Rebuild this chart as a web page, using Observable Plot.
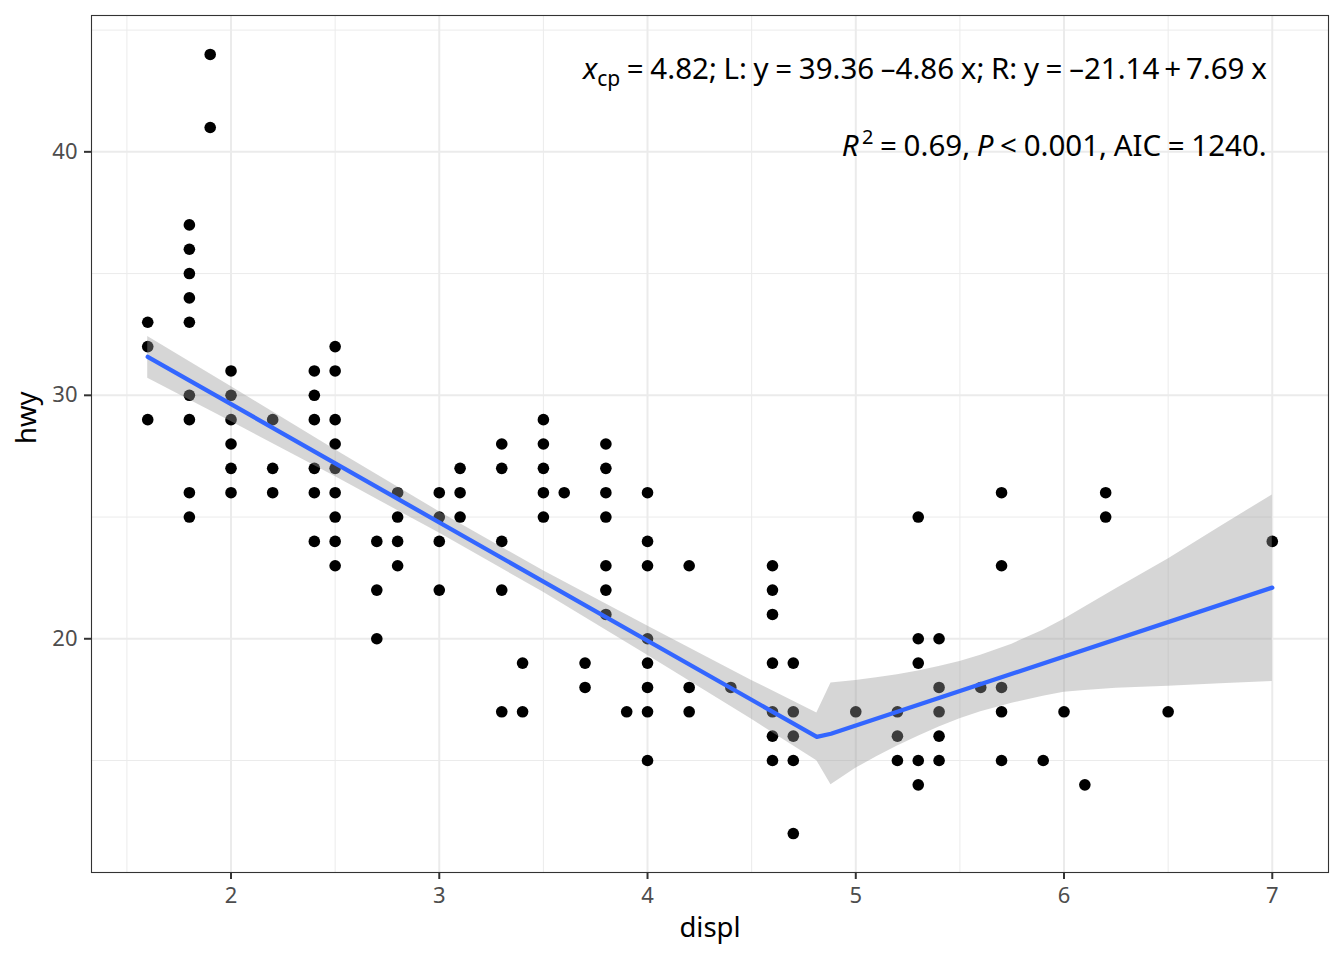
<!DOCTYPE html>
<html>
<head>
<meta charset="utf-8">
<script src="https://cdn.jsdelivr.net/npm/d3@7"></script>
<script src="https://cdn.jsdelivr.net/npm/@observablehq/plot@0.6"></script>
<style>
  html, body { margin: 0; padding: 0; background: white; }
  #chart { width: 1344px; height: 960px; }
</style>
</head>
<body>
<div id="chart"></div>
<script>
// ---- data (unique displ / hwy pairs) ----
const displ = [
  1.6,1.6,1.6,
  1.8,1.8,1.8,1.8,1.8,1.8,1.8,1.8,1.8,
  1.9,1.9,
  2.0,2.0,2.0,2.0,2.0,2.0,
  2.2,2.2,2.2,
  2.4,2.4,2.4,2.4,2.4,2.4,
  2.5,2.5,2.5,2.5,2.5,2.5,2.5,2.5,2.5,
  2.7,2.7,2.7,
  2.8,2.8,2.8,2.8,
  3.0,3.0,3.0,3.0,
  3.1,3.1,3.1,
  3.3,3.3,3.3,3.3,3.3,
  3.4,3.4,
  3.5,3.5,3.5,3.5,3.5,
  3.6,
  3.7,3.7,
  3.8,3.8,3.8,3.8,3.8,3.8,3.8,
  3.9,
  4.0,4.0,4.0,4.0,4.0,4.0,4.0,4.0,
  4.2,4.2,4.2,
  4.4,
  4.6,4.6,4.6,4.6,4.6,4.6,4.6,
  4.7,4.7,4.7,4.7,4.7,
  5.0,
  5.2,5.2,5.2,
  5.3,5.3,5.3,5.3,5.3,
  5.4,5.4,5.4,5.4,5.4,
  5.6,
  5.7,5.7,5.7,5.7,5.7,
  5.9,
  6.0,
  6.1,
  6.2,6.2,
  6.5,
  7.0
];
const hwy = [
  33,32,29,
  37,36,35,34,33,30,29,26,25,
  44,41,
  31,30,29,28,27,26,
  29,27,26,
  31,30,29,27,26,24,
  32,31,29,28,27,26,25,24,23,
  24,22,20,
  26,25,24,23,
  26,25,24,22,
  27,26,25,
  28,27,24,22,17,
  19,17,
  29,28,27,26,25,
  26,
  19,18,
  28,27,26,25,23,22,21,
  17,
  26,24,23,20,19,18,17,15,
  23,18,17,
  18,
  23,22,21,19,17,16,15,
  19,17,16,15,12,
  17,
  17,16,15,
  25,20,19,15,14,
  20,18,17,16,15,
  18,
  26,23,18,17,15,
  15,
  17,
  14,
  26,25,
  17,
  24
];

// fitted segmented line (vertices)
const fitX = [1.6, 4.813, 4.881, 7.0];
const fitY = [31.58, 15.97, 16.10, 22.10];

// confidence band edges
const bandX  = [1.6, 2.0, 2.5, 3.0, 3.5, 4.0, 4.5, 4.813,
                4.881, 5.0, 5.1, 5.2, 5.3, 5.4, 5.5, 5.6, 5.75, 5.9, 6.0, 6.1, 6.25, 6.5, 6.75, 7.0];
const bandLo = [30.70, 28.92, 26.66, 24.34, 21.91, 19.32, 16.69, 14.99,
                14.00, 14.68, 15.15, 15.60, 16.00, 16.38, 16.72, 17.00, 17.35, 17.64, 17.80, 17.88, 17.97, 18.05, 18.15, 18.25];
const bandHi = [32.42, 30.36, 27.76, 25.22, 22.79, 20.52, 18.29, 16.95,
                18.18, 18.29, 18.40, 18.52, 18.68, 18.86, 19.07, 19.32, 19.78, 20.35, 20.80, 21.30, 22.05, 23.28, 24.60, 25.91];

// ticks
const xTicks = [2, 3, 4, 5, 6, 7];
const xMinor = [1.5, 2.5, 3.5, 4.5, 5.5, 6.5];
const yTicks = [20, 30, 40];
const yMinor = [15, 25, 35, 45];

// labels
const xLabel = "displ";
const yLabel = "hwy";

// ---- build tables ----
const points = displ.map((d, i) => ({displ: d, hwy: hwy[i]}));
const fit = fitX.map((d, i) => ({x: d, y: fitY[i]}));
const band = bandX.map((d, i) => ({x: d, lo: bandLo[i], hi: bandHi[i]}));

const font = "Noto Sans";

const plot = Plot.plot({
  width: 1344,
  height: 960,
  marginLeft: 91,
  marginRight: 16,
  marginTop: 15,
  marginBottom: 88,
  style: {fontFamily: font, background: "white"},
  x: {domain: [1.33, 7.27]},
  y: {domain: [10.4, 45.6]},
  marks: [
    Plot.gridX(xMinor, {stroke: "#EBEBEB", strokeOpacity: 1, strokeWidth: 1}),
    Plot.gridY(yMinor, {stroke: "#EBEBEB", strokeOpacity: 1, strokeWidth: 1}),
    Plot.gridX(xTicks, {stroke: "#EBEBEB", strokeOpacity: 1, strokeWidth: 2}),
    Plot.gridY(yTicks, {stroke: "#EBEBEB", strokeOpacity: 1, strokeWidth: 2}),
    Plot.dot(points, {x: "displ", y: "hwy", r: 5.8, fill: "black", stroke: null}),
    Plot.areaY(band, {x: "x", y1: "lo", y2: "hi", fill: "#999999", fillOpacity: 0.4}),
    Plot.line(fit, {x: "x", y: "y", stroke: "#3366FF", strokeWidth: 4.3}),
    Plot.frame({stroke: "#333333", strokeWidth: 1.1}),
    Plot.axisX(xTicks, {tickSize: 7, tickPadding: 8, fontSize: 22, fill: "#4D4D4D", stroke: "#333333", strokeWidth: 2, label: null, tickFormat: d3.format("d")}),
    Plot.axisY(yTicks, {tickSize: 7, tickPadding: 7, fontSize: 22, fill: "#4D4D4D", stroke: "#333333", strokeWidth: 2, label: null, tickFormat: d3.format("d")}),
    Plot.text([xLabel], {frameAnchor: "bottom", dy: 64, fontSize: 27.5, fill: "black"}),
    Plot.text([yLabel], {frameAnchor: "left", dx: -64, rotate: -90, fontSize: 27.5, fill: "black"})
  ]
});

document.getElementById("chart").appendChild(plot);

// ---- annotation (rich text with italic, sub/superscripts) ----
const xs = plot.scale("x");
const svg = d3.select(plot);
const anchorX = xs.apply(7) - 5;
const g = svg.append("g")
  .attr("font-family", font)
  .attr("font-size", 29.5)
  .attr("fill", "black")
  .attr("text-anchor", "end");

const t1 = g.append("text").attr("x", anchorX).attr("y", 79).style("word-spacing", "-1px");
t1.append("tspan").attr("font-style", "italic").text("x");
t1.append("tspan").attr("font-size", 21).attr("dy", 7).text("cp");
t1.append("tspan").attr("dy", -7).text(" = 4.82; L: y = 39.36 \u20134.86 x; R: y = \u201321.14\u2009+\u20097.69 x");

const t2 = g.append("text").attr("x", anchorX).attr("y", 156).style("word-spacing", "-1px");
t2.append("tspan").attr("font-style", "italic").text("R");
t2.append("tspan").attr("font-size", 20).attr("dy", -12).text("\u20092");
t2.append("tspan").attr("dy", 12).text(" = 0.69, ");
t2.append("tspan").attr("font-style", "italic").text("P");
t2.append("tspan").text(" < 0.001, AIC = 1240.");
</script>
</body>
</html>
